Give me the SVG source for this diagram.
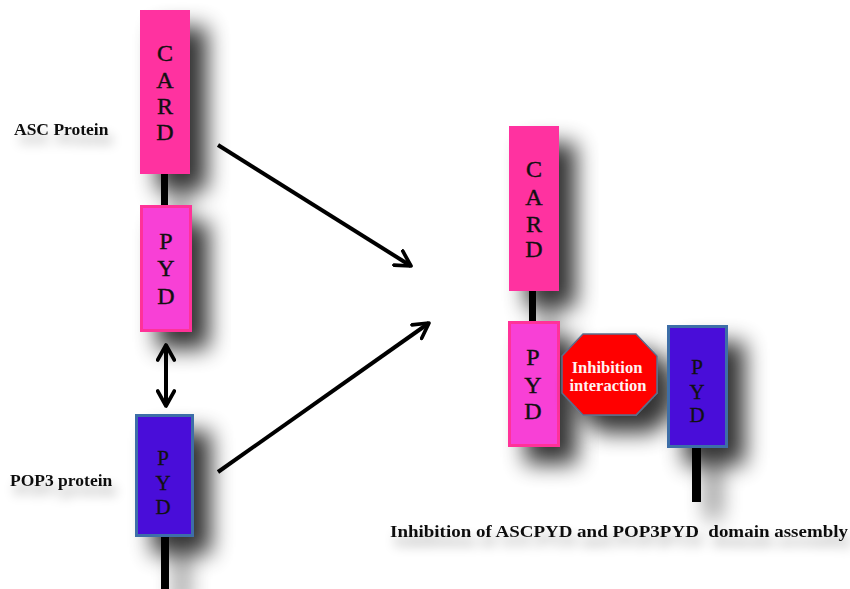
<svg xmlns="http://www.w3.org/2000/svg" width="850" height="589" viewBox="0 0 850 589">
<style>
.card{fill:#ff33a0;}
.pyd{fill:#f83fd6;stroke:#ff3399;stroke-width:3;}
.pop{fill:#4a0bd9;stroke:#3d6ea8;stroke-width:3;}
.stick{fill:#000;}
.let{font-family:"Liberation Serif","DejaVu Serif",serif;font-size:24px;fill:#111;stroke:#111;stroke-width:0.4;text-anchor:middle;}
.let2{font-family:"Liberation Serif","DejaVu Serif",serif;font-size:21px;fill:#111;stroke:#111;stroke-width:0.3;text-anchor:middle;}
.lab{font-family:"Liberation Serif","DejaVu Serif",serif;font-size:17.5px;font-weight:bold;fill:#111;}
.oct{font-family:"Liberation Serif","DejaVu Serif",serif;font-size:16.5px;font-weight:bold;fill:#fff2f2;text-anchor:middle;}
.conn{stroke:#000;stroke-width:4;fill:none;}
</style>
<defs>
<filter id="sh" x="-60%" y="-60%" width="240%" height="240%">
<feGaussianBlur in="SourceAlpha" stdDeviation="11"/>
<feOffset dx="17" dy="17" result="b"/>
<feComponentTransfer><feFuncA type="linear" slope="0.8"/></feComponentTransfer>
<feMerge><feMergeNode/><feMergeNode in="SourceGraphic"/></feMerge>
</filter>
<filter id="tsh" x="-30%" y="-80%" width="160%" height="300%">
<feGaussianBlur in="SourceAlpha" stdDeviation="6"/>
<feOffset dx="4" dy="9"/>
<feComponentTransfer><feFuncA type="linear" slope="0.35"/></feComponentTransfer>
<feMerge><feMergeNode/><feMergeNode in="SourceGraphic"/></feMerge>
</filter>
<marker id="ah" viewBox="0 0 12 12" refX="10" refY="6" markerWidth="5" markerHeight="5" orient="auto-start-reverse" markerUnits="strokeWidth">
<path d="M1,1 L10,6 L1,11" fill="none" stroke="#000" stroke-width="2.2" stroke-linecap="round" stroke-linejoin="round"/>
</marker>
</defs>
<rect width="850" height="589" fill="#fff"/>

<g id="left-asc" filter="url(#sh)">
<rect class="stick" x="161" y="170" width="7" height="38"/>
<rect class="card" x="140" y="10" width="50" height="164"/>
<rect class="pyd" x="141.5" y="206.5" width="49" height="124"/>
</g>
<g id="left-asc-text">
<text class="let" x="165" y="61">C</text>
<text class="let" x="165" y="88">A</text>
<text class="let" x="165" y="114">R</text>
<text class="let" x="165" y="140">D</text>
<text class="let" x="166" y="249">P</text>
<text class="let" x="166" y="276">Y</text>
<text class="let" x="166" y="304">D</text>
</g>

<g id="left-pop3" filter="url(#sh)">
<rect class="stick" x="161" y="530" width="8" height="60"/>
<rect class="pop" x="136.5" y="415.5" width="56" height="120"/>
</g>
<g id="left-pop3-text">
<text class="let2" x="163" y="465">P</text>
<text class="let2" x="163" y="490">Y</text>
<text class="let2" x="163" y="514">D</text>
</g>

<g id="right-asc" filter="url(#sh)">
<rect class="stick" x="529" y="288" width="7" height="36"/>
<rect class="card" x="509" y="126" width="50" height="165"/>
<rect class="pyd" x="509.5" y="322.5" width="49" height="123"/>
</g>
<g id="right-asc-text">
<text class="let" x="534" y="177">C</text>
<text class="let" x="534" y="205">A</text>
<text class="let" x="534" y="232">R</text>
<text class="let" x="534" y="257">D</text>
<text class="let" x="533" y="365">P</text>
<text class="let" x="533" y="393">Y</text>
<text class="let" x="533" y="419">D</text>
</g>

<g id="inhibition" filter="url(#sh)">
<polygon points="583,334 636,334 657,356 657,393 636,415 583,415 562,393 562,356" fill="#ff0000" stroke="#5a6e8c" stroke-width="1.5"/>
</g>
<g id="inhibition-text">
<text class="oct" x="607" y="373">Inhibition</text>
<text class="oct" x="608" y="391">interaction</text>
</g>

<g id="right-pop3" filter="url(#sh)">
<rect class="stick" x="692" y="440" width="9" height="62"/>
<rect class="pop" x="668.5" y="326.5" width="58" height="120"/>
</g>
<g id="right-pop3-text">
<text class="let2" x="697" y="374">P</text>
<text class="let2" x="697" y="399">Y</text>
<text class="let2" x="697" y="422">D</text>
</g>

<g id="labels" filter="url(#tsh)">
<text class="lab" x="14" y="135">ASC Protein</text>
<text class="lab" x="10" y="486">POP3 protein</text>
<text class="lab" x="390" y="537" textLength="458" lengthAdjust="spacingAndGlyphs" xml:space="preserve">Inhibition of ASCPYD and POP3PYD  domain assembly</text>
</g>

<g id="connectors">
<line class="conn" x1="218" y1="145" x2="411" y2="266" marker-end="url(#ah)"/>
<line class="conn" x1="218" y1="472" x2="429" y2="323" marker-end="url(#ah)"/>
<line class="conn" x1="166" y1="345" x2="166" y2="406" marker-start="url(#ah)" marker-end="url(#ah)"/>
</g>
</svg>
